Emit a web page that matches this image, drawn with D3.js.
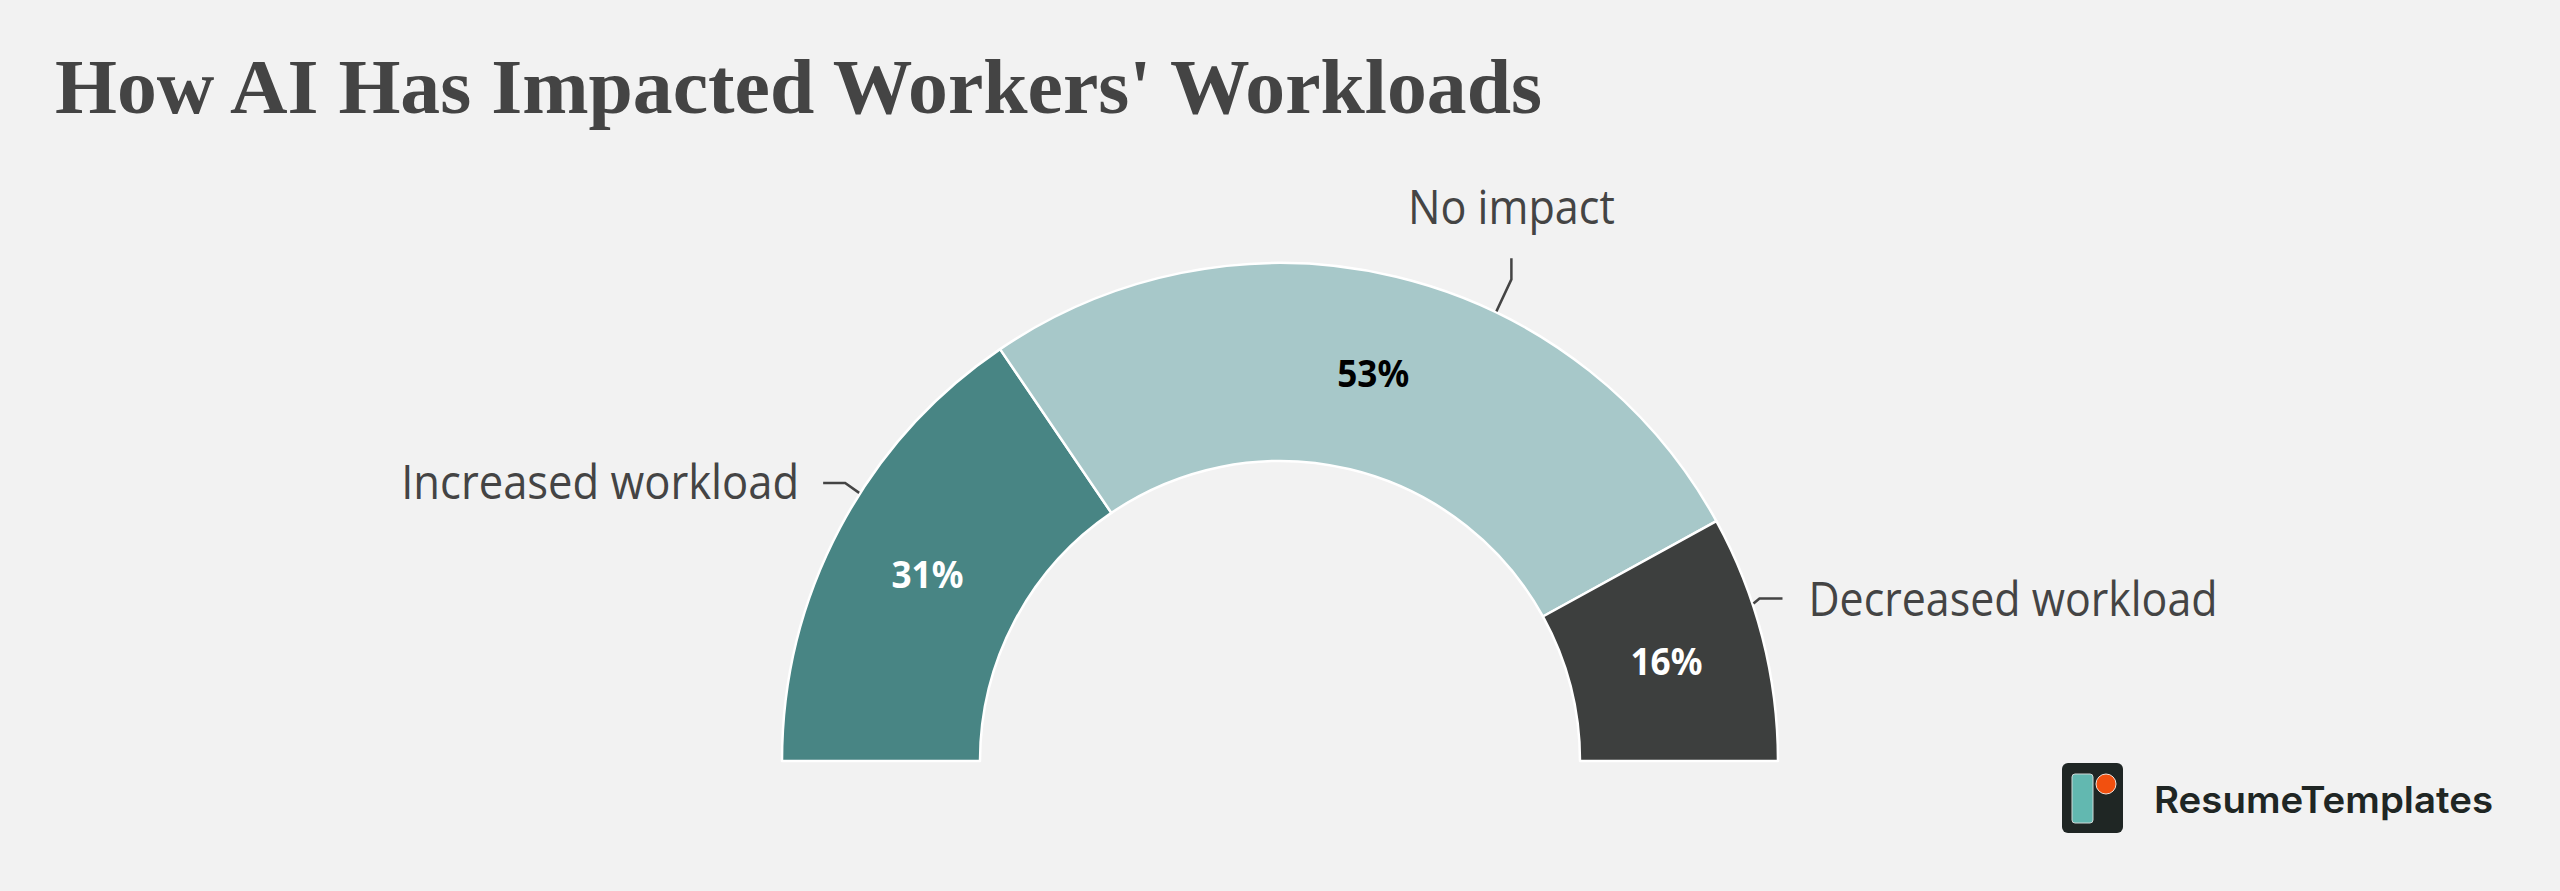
<!DOCTYPE html>
<html>
<head>
<meta charset="utf-8">
<script src="https://cdn.jsdelivr.net/npm/d3@7"></script>
<style>
  html, body { margin: 0; padding: 0; background: #f2f2f2; }
  svg { display: block; }
</style>
</head>
<body>
<svg id="chart" width="2560" height="891"></svg>
<script>
// ---- data ----
const categories = ["Increased workload", "No impact", "Decreased workload"];
const values = [31, 53, 16];
const colors = ["#488584", "#a7c8c9", "#3d3f3e"];
const valueTextColors = ["#ffffff", "#000000", "#ffffff"];
const title = "How AI Has Impacted Workers' Workloads";
const brand = "ResumeTemplates";

// ---- layout ----
const W = 2560, H = 891;
const cx = 1280, cy = 761;
const outerR = 498, innerR = 300;

const svg = d3.select("#chart");
svg.append("rect").attr("width", W).attr("height", H).attr("fill", "#f2f2f2");

// Title
svg.append("text")
  .attr("x", 55).attr("y", 113)
  .attr("font-family", "'Liberation Serif', 'DejaVu Serif', serif")
  .attr("font-weight", 700)
  .attr("font-size", 78)
  .attr("fill", "#444444")
  .attr("textLength", 1487)
  .attr("lengthAdjust", "spacingAndGlyphs")
  .text(title);

const pie = d3.pie().sort(null).value(d => d)
  .startAngle(-Math.PI / 2).endAngle(Math.PI / 2);
const arcs = pie(values);
const arc = d3.arc().innerRadius(innerR).outerRadius(outerR);

const g = svg.append("g").attr("transform", `translate(${cx},${cy})`);

g.selectAll("path.slice").data(arcs).enter().append("path")
  .attr("class", "slice")
  .attr("d", arc)
  .attr("fill", (d, i) => colors[i])
  .attr("stroke", "#ffffff")
  .attr("stroke-width", 2.5)
  .attr("stroke-linejoin", "round");

// value labels at centroids
g.selectAll("text.val").data(arcs).enter().append("text")
  .attr("class", "val")
  .attr("transform", d => `translate(${arc.centroid(d)})`)
  .attr("text-anchor", "middle")
  .attr("dy", "0.36em")
  .attr("font-family", "'Noto Sans', 'Open Sans', sans-serif")
  .attr("font-weight", 700)
  .attr("font-size", 38)
  .attr("fill", (d, i) => valueTextColors[i])
  .attr("textLength", 72)
  .attr("lengthAdjust", "spacingAndGlyphs")
  .text(d => d.data + "%");

// category labels with leader lines
const pointAt = (angle, rad) => [rad * Math.sin(angle), -rad * Math.cos(angle)];
const deg = Math.PI / 180;
// placement rules per slice: angular nudge, label side
const placement = [
  { nudge: 4.6 * deg, side: "left" },
  { nudge: 12.2 * deg, side: "top" },
  { nudge: -4.0 * deg, side: "right" }
];
const labelFont = "'Open Sans', 'Noto Sans', sans-serif";
const labelWidths = [398, 207, 409];

arcs.forEach((d, i) => {
  const mid = (d.startAngle + d.endAngle) / 2 + placement[i].nudge;
  const p0 = pointAt(mid, outerR + 1);
  let pts, tx, ty, anchor;
  if (placement[i].side === "left") {
    const p1 = [p0[0] - 14, p0[1] - 10];
    const p2 = [p1[0] - 22, p1[1]];
    pts = [p0, p1, p2];
    tx = p2[0] - 24; ty = p1[1] + 16; anchor = "end";
  } else if (placement[i].side === "right") {
    const p1 = [p0[0] + 6, p0[1] - 5];
    const p2 = [p1[0] + 23, p1[1]];
    pts = [p0, p1, p2];
    tx = p2[0] + 26; ty = p1[1] + 17; anchor = "start";
  } else {
    const p1 = [p0[0] + 15, p0[1] - 32];
    const p2 = [p1[0], p1[1] - 21];
    pts = [p0, p1, p2];
    tx = p2[0]; ty = p2[1] - 34; anchor = "middle";
  }
  g.append("path")
    .attr("d", d3.line()(pts))
    .attr("fill", "none")
    .attr("stroke", "#444444")
    .attr("stroke-width", 2.5);
  g.append("text")
    .attr("x", tx).attr("y", ty)
    .attr("text-anchor", anchor)
    .attr("font-family", labelFont)
    .attr("font-weight", 400)
    .attr("font-size", 47)
    .attr("fill", "#444444")
    .attr("textLength", labelWidths[i])
    .attr("lengthAdjust", "spacingAndGlyphs")
    .text(categories[i]);
});

// brand logo
const logo = svg.append("g");
logo.append("rect")
  .attr("x", 2062).attr("y", 763).attr("width", 61).attr("height", 70)
  .attr("rx", 6).attr("fill", "#1f2624");
logo.append("rect")
  .attr("x", 2072).attr("y", 774).attr("width", 21).attr("height", 49)
  .attr("rx", 3).attr("fill", "#62b8b0").attr("stroke", "#cfd8d6").attr("stroke-width", 1);
logo.append("circle")
  .attr("cx", 2106).attr("cy", 784).attr("r", 10)
  .attr("fill", "#f2500f").attr("stroke", "#f3e2d8").attr("stroke-width", 1);
logo.append("text")
  .attr("x", 2154).attr("y", 813)
  .attr("font-family", "Inter, 'Noto Sans', sans-serif")
  .attr("font-weight", 600)
  .attr("font-size", 37)
  .attr("fill", "#1f2624")
  .attr("textLength", 339)
  .attr("lengthAdjust", "spacingAndGlyphs")
  .text(brand);
</script>
</body>
</html>
